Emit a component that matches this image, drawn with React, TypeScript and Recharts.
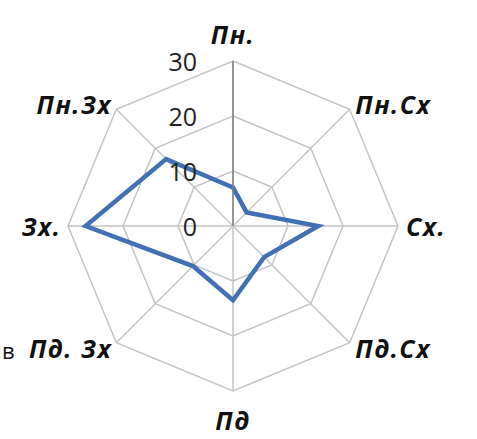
import { RadarChart, Radar, PolarGrid, PolarAngleAxis, PolarRadiusAxis } from 'recharts'

const directions = ['Пн.', 'Пн.Сх', 'Сх.', 'Пд.Сх', 'Пд', 'Пд. Зх', 'Зх.', 'Пн.Зх']
const winds = [7, 3.5, 15.5, 8, 13.5, 10.3, 26.8, 17.2]
const radiusTicks = [0, 10, 20, 30]

const data = directions.map((d, i) => ({ d, v: winds[i] }))

const AngleTick = (props: any) => {
  const { x, y, textAnchor, payload, cy } = props
  let dy = 0
  if (textAnchor === 'middle') dy = y < cy ? -19 : 21
  // letter spacing leaves a gap after the last glyph, nudge right-anchored labels
  const dx = textAnchor === 'end' ? 1.5 : 0
  return (
    <text x={x + dx} y={y + dy} textAnchor={textAnchor} dominantBaseline="central"
      fontFamily="'Open Sans', sans-serif" fontStyle="italic" fontWeight={700} fontSize={25}
      letterSpacing={1.5} fill="#111">
      {payload.value}
    </text>
  )
}

const RadiusTick = (props: any) => {
  const { x, y, payload } = props
  return (
    <text x={x - 36} y={y} textAnchor="end" dominantBaseline="central"
      fontFamily="'Open Sans', sans-serif" fontSize={25} fill="#222">
      {payload.value}
    </text>
  )
}

export default function App() {
  return (
    <div style={{ position: 'absolute', left: 0, top: 0, width: 477, height: 439, background: '#fff' }}>
      <RadarChart width={477} height={439} data={data} cx={233} cy={226} outerRadius={165}
        margin={{ top: 0, right: 0, bottom: 0, left: 0 }}>
        <PolarGrid gridType="polygon" stroke="#c4c4c4" strokeWidth={1.5} />
        <PolarAngleAxis dataKey="d" tick={<AngleTick cy={226} />} tickLine={false} axisLine={false} />
        <PolarRadiusAxis angle={90} domain={[0, 30]} ticks={radiusTicks as any} tick={<RadiusTick />}
          axisLine={{ stroke: '#808080', strokeWidth: 1.5 }} tickLine={false} />
        <Radar dataKey="v" stroke="#4270b4" strokeWidth={4.5} fill="none" fillOpacity={0}
          dot={false} isAnimationActive={false} />
      </RadarChart>
      <div style={{ position: 'absolute', left: 2, top: 337, fontFamily: "'Open Sans', sans-serif", fontSize: 22, lineHeight: '26px', color: '#111' }}>в</div>
    </div>
  )
}
